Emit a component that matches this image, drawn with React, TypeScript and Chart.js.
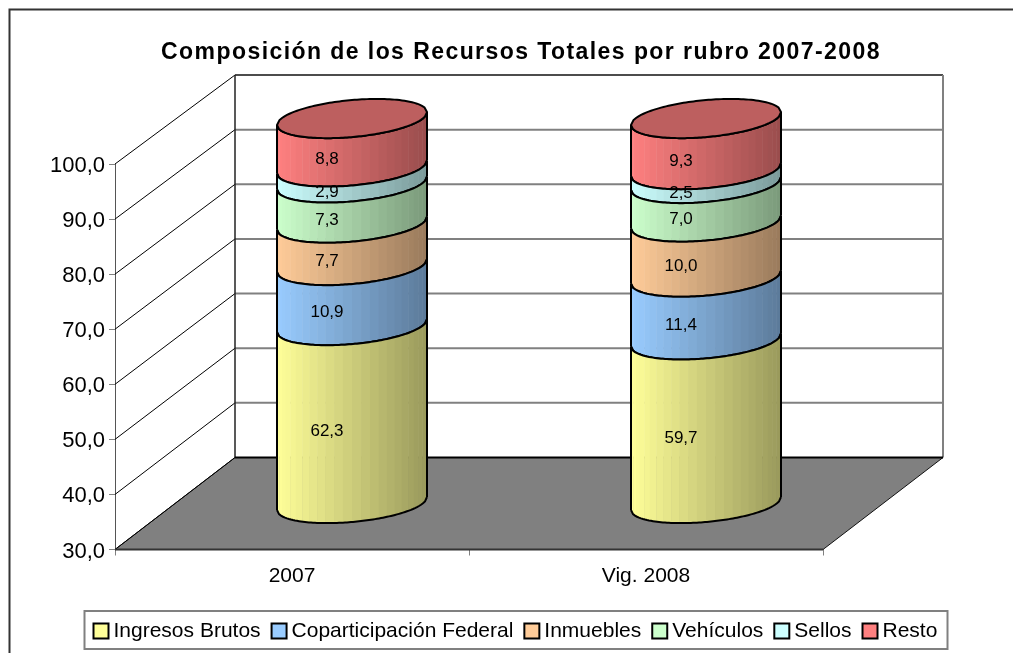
import React, { useEffect, useRef } from "react";
import { Chart, registerables } from "chart.js";

Chart.register(...registerables);

const categories = ["2007", "Vig. 2008"];
const seriesNames = ["Ingresos Brutos", "Coparticipación Federal", "Inmuebles", "Vehículos", "Sellos", "Resto"];
const ingresosBrutos = [62.3, 59.7];
const coparticipacion = [10.9, 11.4];
const inmuebles = [7.7, 10.0];
const vehiculos = [7.3, 7.0];
const sellos = [2.9, 2.5];
const resto = [8.8, 9.3];
const seriesValues = [ingresosBrutos, coparticipacion, inmuebles, vehiculos, sellos, resto];
const seriesColors = ["#FFFF99", "#99CCFF", "#FFCC99", "#CCFFCC", "#CCFFFF", "#FF8080"];
const titleText = "Composición de los Recursos Totales por rubro 2007-2008";
const yMin = 30;
const yMax = 100;
const yStep = 10;

const DEPTH_X = 120;
const DEPTH_Y = -92;
const BACK_SCALE = 382 / 385;
const TILT = 6.5;
const MINOR = 18.5;
const FONT = "'Liberation Sans', Arial, sans-serif";

const fmt = (v: number) => v.toFixed(1).replace(".", ",");

function shade(hex: string, f: number) {
  const n = parseInt(hex.slice(1), 16);
  const r = Math.round(((n >> 16) & 255) * f);
  const g = Math.round(((n >> 8) & 255) * f);
  const b = Math.round((n & 255) * f);
  return `rgb(${r},${g},${b})`;
}

function frontY(dx: number, R: number) {
  const c = Math.max(-1, Math.min(1, dx / R));
  const s = Math.sqrt(1 - c * c);
  return -TILT * c + MINOR * s;
}

function tracePath(ctx: CanvasRenderingContext2D, cx: number, cy: number, R: number, x0: number, x1: number, move: boolean) {
  const steps = Math.max(2, Math.ceil(Math.abs(x1 - x0) / 2));
  for (let i = 0; i <= steps; i++) {
    const x = x0 + ((x1 - x0) * i) / steps;
    const y = cy + frontY(x - cx, R);
    if (i === 0 && move) ctx.moveTo(x, y);
    else ctx.lineTo(x, y);
  }
}

function yPixels(chart: any, el: any) {
  const sc = chart.scales.y;
  const bottom = sc.getPixelForValue(yMin);
  return { top: el.y, base: Math.min(el.base, bottom) };
}

const scene = {
  id: "scene3d",
  afterLayout(chart: any) {
    const t = chart.titleBlock;
    if (t) {
      t.left = 0;
      t.right = 1042;
      if (!t._spaced) {
        t._spaced = true;
        const orig = t.draw;
        t.draw = function (...a: any[]) {
          chart.ctx.save();
          chart.ctx.letterSpacing = "1.43px";
          orig.apply(t, a);
          chart.ctx.restore();
        };
      }
    }
    const l = chart.legend;
    if (l) {
      const firstItemX = 99;
      l.left = 0;
      l.right = 2 * firstItemX - l.options.labels.padding + l.lineWidths[0];
      l.top = 604;
      l.bottom = 653;
    }
  },
  beforeDraw(chart: any) {
    const { ctx } = chart;
    ctx.save();
    ctx.fillStyle = "#ffffff";
    ctx.fillRect(0, 0, chart.width, chart.height);
    ctx.strokeStyle = "#333333";
    ctx.lineWidth = 2;
    ctx.beginPath();
    ctx.moveTo(9.5, chart.height + 5);
    ctx.lineTo(9.5, 9.5);
    ctx.lineTo(chart.width + 5, 9.5);
    ctx.stroke();
    ctx.strokeStyle = "#808080";
    ctx.strokeRect(84.5, 611, 863, 38);
    ctx.restore();
  },
  beforeDatasetsDraw(chart: any) {
    const { ctx, chartArea, scales } = chart;
    const { left, right, bottom } = chartArea;
    const ys = scales.y;
    const yBack = bottom + DEPTH_Y;
    const backY = (y: number) => yBack - (bottom - y) * BACK_SCALE;
    ctx.save();
    ctx.fillStyle = "#808080";
    ctx.beginPath();
    ctx.moveTo(left, bottom);
    ctx.lineTo(right, bottom);
    ctx.lineTo(right + DEPTH_X, yBack);
    ctx.lineTo(left + DEPTH_X, yBack);
    ctx.closePath();
    ctx.fill();
    ctx.lineWidth = 1;
    ctx.strokeStyle = "#111111";
    ctx.stroke();
    ys.ticks.forEach((tick: any) => {
      const y = ys.getPixelForValue(tick.value);
      const isTop = tick.value === yMax;
      const isBottom = tick.value === yMin;
      ctx.strokeStyle = "#000000";
      ctx.lineWidth = 1;
      ctx.beginPath();
      ctx.moveTo(left, y);
      ctx.lineTo(left + DEPTH_X, backY(y));
      ctx.stroke();
      if (!isBottom) {
        ctx.strokeStyle = isTop ? "#111111" : "#808080";
        ctx.lineWidth = isTop ? 1.5 : 2;
        ctx.beginPath();
        ctx.moveTo(left + DEPTH_X, backY(y));
        ctx.lineTo(right + DEPTH_X, backY(y));
        ctx.stroke();
      }
    });
    const yTop = backY(ys.getPixelForValue(yMax));
    ctx.strokeStyle = "#222222";
    ctx.lineWidth = 1.5;
    ctx.beginPath();
    ctx.moveTo(left + DEPTH_X, yTop);
    ctx.lineTo(left + DEPTH_X, yBack);
    ctx.stroke();
    ctx.strokeStyle = "#808080";
    ctx.lineWidth = 2;
    ctx.beginPath();
    ctx.moveTo(right + DEPTH_X, yTop);
    ctx.lineTo(right + DEPTH_X, yBack);
    ctx.stroke();
    ctx.strokeStyle = "#000000";
    ctx.lineWidth = 2;
    ctx.beginPath();
    ctx.moveTo(left + DEPTH_X, yBack);
    ctx.lineTo(right + DEPTH_X, yBack);
    ctx.stroke();
    ctx.strokeStyle = "#333333";
    ctx.beginPath();
    ctx.moveTo(left, bottom);
    ctx.lineTo(right, bottom);
    ctx.stroke();
    ctx.restore();
  },
  beforeDatasetDraw(chart: any, args: any) {
    const { ctx } = chart;
    const meta = args.meta;
    const color = chart.data.datasets[args.index].backgroundColor;
    const last = args.index === chart.data.datasets.length - 1;
    ctx.save();
    meta.data.forEach((el: any) => {
      const R = el.width / 2;
      const cx = el.x + DEPTH_X / 2;
      const { top, base } = yPixels(chart, el);
      const yT = top + DEPTH_Y / 2;
      const yB = base + DEPTH_Y / 2;
      const N = 26;
      for (let i = 0; i < N; i++) {
        const x0 = cx - R * Math.cos((Math.PI * i) / N);
        const x1 = cx - R * Math.cos((Math.PI * (i + 1)) / N);
        const xm = (x0 + x1) / 2;
        const f = 1 - 0.4 * ((xm - (cx - R)) / (2 * R));
        const xe = Math.min(x1 + 0.5, cx + R);
        ctx.fillStyle = shade(color, f);
        ctx.beginPath();
        tracePath(ctx, cx, yT, R, x0, xe, true);
        tracePath(ctx, cx, yB, R, xe, x0, false);
        ctx.closePath();
        ctx.fill();
      }
      ctx.strokeStyle = "#000000";
      ctx.lineWidth = 2;
      ctx.beginPath();
      tracePath(ctx, cx, yB, R, cx - R, cx + R, true);
      ctx.stroke();
      ctx.beginPath();
      tracePath(ctx, cx, yT, R, cx - R, cx + R, true);
      ctx.stroke();
      ctx.beginPath();
      ctx.moveTo(cx - R, yT + TILT);
      ctx.lineTo(cx - R, yB + TILT);
      ctx.moveTo(cx + R, yT - TILT);
      ctx.lineTo(cx + R, yB - TILT);
      ctx.stroke();
      if (last) {
        ctx.fillStyle = shade(color, 0.74);
        ctx.beginPath();
        tracePath(ctx, cx, yT, R, cx - R, cx + R, true);
        const steps = 60;
        for (let i = 0; i <= steps; i++) {
          const x = cx + R - (2 * R * i) / steps;
          const c = (x - cx) / R;
          const s = Math.sqrt(Math.max(0, 1 - c * c));
          ctx.lineTo(x, yT - TILT * c - MINOR * s);
        }
        ctx.closePath();
        ctx.fill();
        ctx.stroke();
      }
    });
    ctx.restore();
    return false;
  },
  afterDatasetsDraw(chart: any) {
    const { ctx } = chart;
    ctx.save();
    ctx.fillStyle = "#000000";
    ctx.font = `17px ${FONT}`;
    ctx.textAlign = "center";
    ctx.textBaseline = "middle";
    chart.data.datasets.forEach((ds: any, i: number) => {
      chart.getDatasetMeta(i).data.forEach((el: any, j: number) => {
        const { top, base } = yPixels(chart, el);
        ctx.fillText(fmt(ds.data[j]), el.x + 35, (top + base) / 2 - 29);
      });
    });
    ctx.restore();
  },
};

export default function App() {
  const ref = useRef<HTMLCanvasElement>(null);
  useEffect(() => {
    if (!ref.current) return;
    const chart = new Chart(ref.current, {
      type: "bar",
      data: {
        labels: categories,
        datasets: seriesNames.map((name, i) => ({
          label: name,
          data: seriesValues[i],
          backgroundColor: seriesColors[i],
          borderColor: "#000000",
          borderWidth: 2,
          pointStyle: "rect",
          barPercentage: 150 / 354,
          categoryPercentage: 1,
        })),
      },
      options: {
        responsive: false,
        animation: false,
        events: [],
        layout: { padding: { left: -100, right: 190, top: 0, bottom: 0 } },
        plugins: {
          tooltip: { enabled: false },
          title: {
            display: true,
            text: titleText,
            color: "#000000",
            font: { family: FONT, size: 23, weight: "bold", lineHeight: 1.2 },
            padding: { top: 39, bottom: 97.4 },
          },
          legend: {
            display: true,
            position: "bottom",
            labels: {
              usePointStyle: true,
              boxHeight: 15,
              boxWidth: 4,
              padding: 16.5,
              color: "#000000",
              font: { family: FONT, size: 21 },
            },
          },
        },
        scales: {
          x: {
            type: "category",
            stacked: true,
            afterFit: (s: any) => {
              s.height = 56;
            },
            border: { display: true, color: "#808080", width: 1 },
            grid: { display: true, drawOnChartArea: false, drawTicks: true, tickLength: 6, color: "#808080", offset: true },
            ticks: { color: "#000000", padding: 8, font: { family: FONT, size: 21 }, maxRotation: 0 },
          },
          y: {
            type: "linear",
            stacked: true,
            min: yMin,
            max: yMax,
            afterFit: (s: any) => {
              s.width = 215;
            },
            border: { display: true, color: "#555555", width: 1 },
            grid: { display: true, drawOnChartArea: false, drawTicks: true, tickLength: 6, color: "#808080" },
            ticks: {
              stepSize: yStep,
              padding: 4,
              labelOffset: 2,
              color: "#000000",
              font: { family: FONT, size: 22 },
              callback: (v: any) => fmt(Number(v)),
            },
          },
        },
      },
      plugins: [scene],
    } as any);
    return () => chart.destroy();
  }, []);
  return (
    <div style={{ position: "absolute", left: 0, top: 0, width: 1013, height: 653, background: "#fff" }}>
      <canvas ref={ref} width={1013} height={653} style={{ display: "block" }} />
    </div>
  );
}
